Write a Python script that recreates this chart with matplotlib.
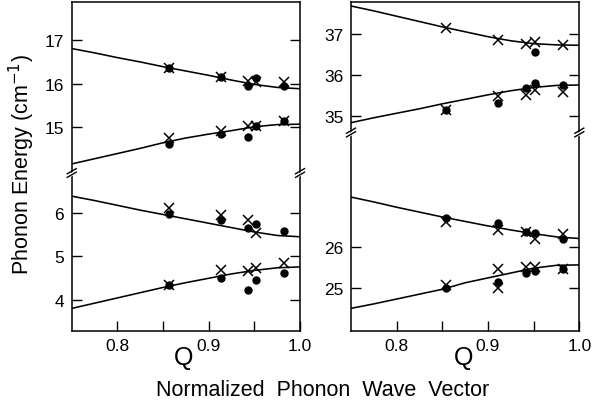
import matplotlib
matplotlib.use('Agg')
import matplotlib.pyplot as plt
from matplotlib.lines import Line2D
from matplotlib.patches import Polygon

plt.rcParams['font.family'] = ['Liberation Sans', 'DejaVu Sans']

# ---------------- data ----------------
q_curve = [0.75, 0.775, 0.80, 0.825, 0.85, 0.875, 0.90, 0.925, 0.95, 0.975, 1.0]

# Left panel, top section
lt_curve_upper = [16.81, 16.71, 16.60, 16.50, 16.39, 16.29, 16.19, 16.08, 15.98, 15.91, 15.88]
lt_curve_lower = [14.14, 14.26, 14.38, 14.50, 14.63, 14.74, 14.83, 14.91, 15.00, 15.05, 15.06]
lt_cross_q = [0.857, 0.914, 0.943, 0.952, 0.983, 0.857, 0.914, 0.943, 0.952, 0.983]
lt_cross_e = [16.36, 16.15, 16.06, 16.04, 16.04, 14.74, 14.90, 15.01, 15.01, 15.13]
lt_dot_q = [0.857, 0.914, 0.943, 0.952, 0.983, 0.857, 0.914, 0.943, 0.952, 0.983]
lt_dot_e = [16.36, 16.15, 15.94, 16.12, 15.94, 14.61, 14.84, 14.76, 15.01, 15.13]

# Left panel, bottom section
lb_curve_upper = [6.38, 6.28, 6.17, 6.06, 5.96, 5.86, 5.76, 5.66, 5.56, 5.48, 5.45]
lb_curve_lower = [3.81, 3.93, 4.05, 4.17, 4.29, 4.40, 4.50, 4.60, 4.68, 4.74, 4.76]
lb_cross_q = [0.857, 0.914, 0.943, 0.952, 0.857, 0.914, 0.943, 0.952, 0.983]
lb_cross_e = [6.10, 5.94, 5.84, 5.53, 4.34, 4.69, 4.66, 4.73, 4.84]
lb_dot_q = [0.857, 0.914, 0.943, 0.952, 0.983, 0.857, 0.914, 0.943, 0.952, 0.983]
lb_dot_e = [5.97, 5.84, 5.65, 5.75, 5.58, 4.34, 4.50, 4.24, 4.47, 4.63]

# Right panel, top section
rt_curve_upper = [37.68, 37.56, 37.43, 37.30, 37.17, 37.05, 36.93, 36.83, 36.76, 36.73, 36.72]
rt_curve_lower = [34.83, 34.95, 35.06, 35.17, 35.29, 35.40, 35.51, 35.61, 35.69, 35.74, 35.75]
rt_cross_q = [0.854, 0.911, 0.942, 0.952, 0.982, 0.854, 0.911, 0.942, 0.952, 0.982]
rt_cross_e = [37.14, 36.85, 36.74, 36.79, 36.72, 35.14, 35.49, 35.50, 35.63, 35.58]
rt_dot_q = [0.952, 0.854, 0.911, 0.942, 0.952, 0.982]
rt_dot_e = [36.55, 35.14, 35.32, 35.67, 35.81, 35.76]

# Right panel, bottom section
rb_curve_upper = [27.23, 27.11, 26.98, 26.86, 26.74, 26.63, 26.52, 26.42, 26.33, 26.25, 26.21]
rb_curve_lower = [24.49, 24.60, 24.72, 24.84, 24.96, 25.12, 25.24, 25.36, 25.48, 25.55, 25.56]
rb_cross_q = [0.854, 0.911, 0.942, 0.952, 0.982, 0.854, 0.911, 0.911, 0.942, 0.952, 0.982]
rb_cross_e = [26.62, 26.43, 26.38, 26.21, 26.33, 25.07, 25.47, 24.98, 25.51, 25.51, 25.45]
rb_dot_q = [0.854, 0.911, 0.942, 0.952, 0.982, 0.854, 0.911, 0.942, 0.952, 0.982]
rb_dot_e = [26.72, 26.58, 26.38, 26.35, 26.19, 24.98, 25.14, 25.35, 25.41, 25.45]

lt_yticks = [15, 16, 17]
lb_yticks = [4, 5, 6]
rt_yticks = [35, 36, 37]
rb_yticks = [25, 26]
x_major = [0.8, 0.9, 1.0]
x_minor = [0.85, 0.95]

# ---------------- figure ----------------
W, H = 595, 406
fig = plt.figure(figsize=(W / 100, H / 100), dpi=100)

def fx(px):
    return px / W

def fy(py):
    return 1 - py / H

top_px, bot_px = 3.3, 331.7
panels = [
    dict(l=71.7, r=300.0, brk=174.0, ylim_t=(13.93, 17.88), ylim_b=(3.30, 6.91),
         yt_t=lt_yticks, yt_b=lb_yticks,
         top=(lt_curve_upper, lt_curve_lower, lt_cross_q, lt_cross_e, lt_dot_q, lt_dot_e),
         bot=(lb_curve_upper, lb_curve_lower, lb_cross_q, lb_cross_e, lb_dot_q, lb_dot_e)),
    dict(l=351.0, r=579.3, brk=133.5, ylim_t=(34.59, 37.77), ylim_b=(23.94, 28.82),
         yt_t=rt_yticks, yt_b=rb_yticks,
         top=(rt_curve_upper, rt_curve_lower, rt_cross_q, rt_cross_e, rt_dot_q, rt_dot_e),
         bot=(rb_curve_upper, rb_curve_lower, rb_cross_q, rb_cross_e, rb_dot_q, rb_dot_e)),
]

lw = 1.1
tick_kw = dict(direction='in', length=7.2, width=1.0, labelsize=12.5, pad=5.5,
               left=True, right=True, top=False)

def draw(ax, d):
    cu, cl, xq, xe, dq, de = d
    ax.plot(q_curve, cu, color='black', lw=1.15, solid_capstyle='butt')
    ax.plot(q_curve, cl, color='black', lw=1.15, solid_capstyle='butt')
    ax.plot(dq, de, linestyle='none', marker='o', ms=5.0, color='black', zorder=3)
    ax.plot(xq, xe, linestyle='none', marker='x', ms=7.2, mew=1.1, color='black', zorder=4)

for p in panels:
    x0, x1 = fx(p['l']), fx(p['r'])
    yb = fy(p['brk'])
    ax_t = fig.add_axes([x0, yb, x1 - x0, fy(top_px) - yb])
    ax_b = fig.add_axes([x0, fy(bot_px), x1 - x0, yb - fy(bot_px)])
    for ax, ylim, yt, d in ((ax_t, p['ylim_t'], p['yt_t'], p['top']),
                            (ax_b, p['ylim_b'], p['yt_b'], p['bot'])):
        draw(ax, d)
        ax.set_xlim(0.75, 1.0)
        ax.set_ylim(*ylim)
        ax.set_yticks(yt)
        ax.set_yticklabels([str(v) for v in yt])
        for s in ax.spines.values():
            s.set_linewidth(lw)
        ax.tick_params(axis='y', **tick_kw)
    ax_t.spines['bottom'].set_visible(False)
    ax_b.spines['top'].set_visible(False)
    ax_t.tick_params(axis='x', bottom=False, top=False, labelbottom=False)
    ax_b.set_xticks(x_major)
    ax_b.set_xticklabels(['0.8', '0.9', '1.0'])
    ax_b.set_xticks(x_minor, minor=True)
    ax_b.tick_params(axis='x', which='both', direction='in', length=7.2, width=1.0,
                     labelsize=12.5, pad=5.5, top=False)
    # break marks
    for xpx in (p['l'], p['r']):
        yc = p['brk']
        gap = Polygon([(fx(xpx - 3), fy(yc + 1.2)), (fx(xpx + 3), fy(yc - 2.2)),
                       (fx(xpx + 3), fy(yc + 1.6)), (fx(xpx - 3), fy(yc + 5.0))],
                      closed=True, transform=fig.transFigure, facecolor='white',
                      edgecolor='none', zorder=10)
        fig.patches.append(gap)
        for off in (-1.8, 1.8):
            fig.lines.append(Line2D([fx(xpx - 4.5), fx(xpx + 4.5)],
                                    [fy(yc + off + 2.6), fy(yc + off - 2.6)],
                                    transform=fig.transFigure, color='black', lw=1.0,
                                    zorder=11))
    fig.text(fx((p['l'] + p['r']) / 2 - 2), fy(358.5), 'Q', fontsize=18,
             ha='center', va='center')

fig.text(fx(22), fy(165), 'Phonon Energy (cm$^{-1}$)', rotation=90, fontsize=15.5,
         ha='center', va='center')
fig.text(fx(322.5), fy(391), 'Normalized  Phonon  Wave  Vector', fontsize=15.5,
         ha='center', va='center')

fig.savefig('out.png', dpi=100)
